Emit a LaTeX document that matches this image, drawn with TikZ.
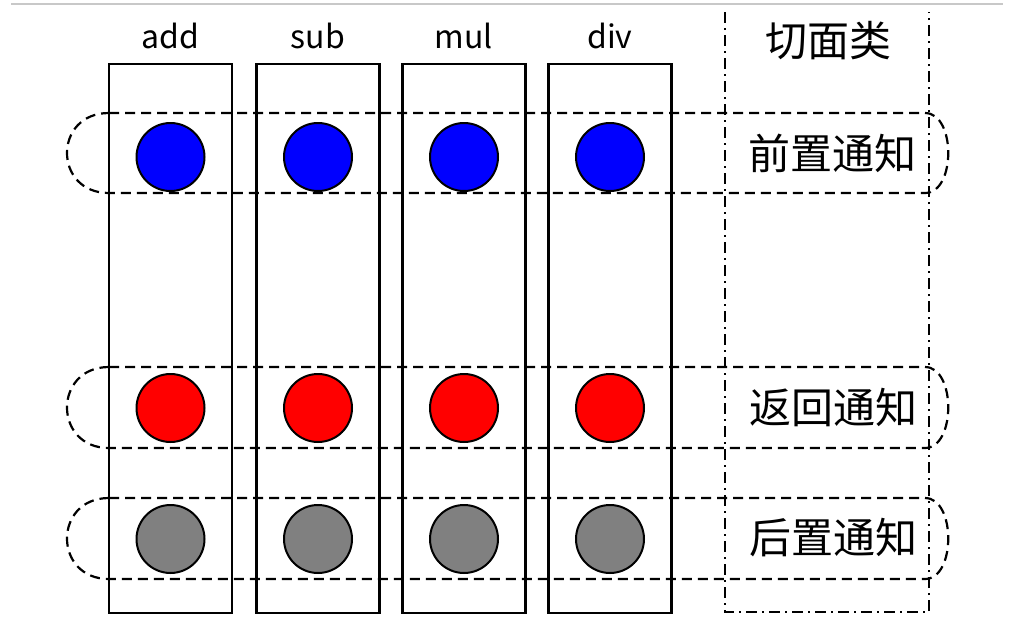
\documentclass[tikz,border=0pt]{standalone}
\usepackage{fontspec}
\setmainfont{Noto Sans CJK SC}
\begin{document}
\begin{tikzpicture}[x=1pt,y=-1pt,
  col/.style={draw=black,line width=2.3pt,minimum width=123pt,minimum height=549pt,inner sep=0pt,anchor=north},
  dot/.style={circle,draw=black,line width=2pt,minimum size=68pt,inner sep=0pt},
  band/.style={draw=black,line width=2.2pt,dash pattern=on 10pt off 6pt},
  aspectbox/.style={draw=black,line width=2.2pt,dash pattern=on 11pt off 5pt on 2pt off 5pt},
  lbl/.style={font=\fontsize{32}{36}\selectfont,inner sep=0pt},
  cjk/.style={font=\fontsize{42}{46}\selectfont,inner sep=0pt}]
\useasboundingbox (0,0) rectangle (1028,632);
\draw[line width=2pt,color={rgb,255:red,200;green,200;blue,200}] (11,4) -- (1003,4);
% columns
\foreach \n/\x in {add/170.5,sub/318,mul/464,div/610}{
  \node[col] (c\n) at (\x,63) {};
  \node[lbl] (t\n) at (\x,36) {\n};
  \node[dot,fill={rgb,255:red,0;green,0;blue,255}] (b\n) at (\x,157) {};
  \node[dot,fill={rgb,255:red,255;green,0;blue,0}] (r\n) at (\x,408) {};
  \node[dot,fill={rgb,255:red,128;green,128;blue,128}] (g\n) at (\x,539) {};
}
% bands
\foreach \t/\b in {113/193,367/448,498/579}{
  \draw[band] (109,\t) -- (925,\t) .. controls (956,\t) and (956,\b) .. (925,\b)
     -- (109,\b) .. controls (53,\b) and (53,\t) .. cycle;
}
% aspect column
\draw[aspectbox] (725,12) -- (725,612) -- (929,612) -- (929,12);
\node[cjk] (aspect) at (828,41) {切面类};
\node[cjk] (before) at (832,153) {前置通知};
\node[cjk] (ret) at (833,407) {返回通知};
\node[cjk] (after) at (833,538) {后置通知};
\end{tikzpicture}
\end{document}
